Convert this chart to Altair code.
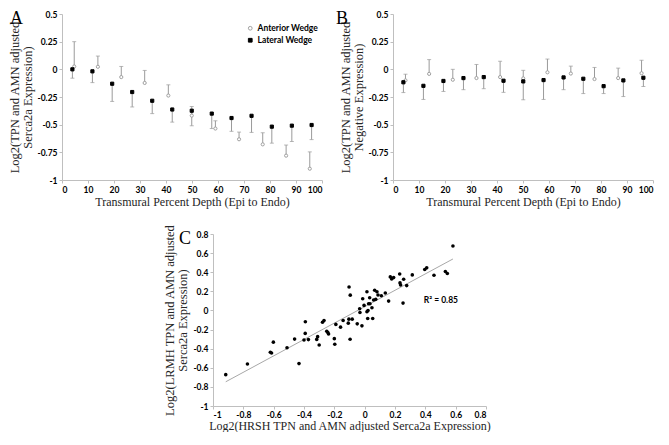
import altair as alt
import pandas as pd

# ---------------- Panel A: Serca2a expression vs transmural depth ----------------
a_ant_depth = [4.7, 13.8, 22.8, 31.8, 40.9, 49.9, 59.0, 68.1, 77.2, 86.2, 95.3]
a_ant_value = [0.026, 0.023, -0.07, -0.123, -0.237, -0.418, -0.535, -0.632, -0.678, -0.78, -0.898]
a_ant_err_end = [0.25, 0.12, 0.026, -0.01, -0.14, -0.336, -0.465, -0.567, -0.573, -0.684, -0.746]
a_lat_depth = [4.0, 11.7, 19.3, 27.0, 34.7, 42.4, 49.9, 57.6, 65.2, 72.9, 80.7, 88.4, 96.0]
a_lat_value = [0.0, -0.018, -0.13, -0.205, -0.284, -0.363, -0.374, -0.40, -0.44, -0.42, -0.518, -0.509, -0.503]
a_lat_err_end = [-0.08, -0.12, -0.29, -0.34, -0.40, -0.477, -0.51, -0.535, -0.56, -0.57, -0.667, -0.652, -0.635]

# ---------------- Panel B: negative-control expression vs depth ----------------
b_ant_depth = [4.8, 13.9, 23.0, 32.1, 41.2, 50.1, 59.4, 68.4, 77.5, 86.6, 95.6]
b_ant_value = [-0.10, -0.041, -0.094, -0.079, -0.07, -0.082, -0.027, -0.038, -0.088, -0.079, -0.035]
b_ant_err_end = [-0.044, 0.088, 0.0, 0.044, 0.073, -0.009, 0.093, 0.029, 0.017, 0.011, 0.082]
b_lat_depth = [4.0, 11.7, 19.4, 27.1, 34.9, 42.5, 50.1, 57.9, 65.6, 73.2, 81.0, 88.6, 96.3]
b_lat_value = [-0.117, -0.149, -0.105, -0.079, -0.07, -0.103, -0.109, -0.097, -0.073, -0.085, -0.152, -0.10, -0.076]
b_lat_err_end = [-0.21, -0.272, -0.20, -0.184, -0.175, -0.208, -0.275, -0.272, -0.184, -0.219, -0.219, -0.246, -0.155]

# ---------------- Panel C: LRMH vs HRSH scatter ----------------
c_hrsh = [-0.916, -0.773, -0.622, -0.614, -0.602, -0.512, -0.462, -0.433, -0.400, -0.391,
          -0.392, -0.371, -0.316, -0.310, -0.300, -0.278, -0.268, -0.250, -0.243, -0.238,
          -0.200, -0.197, -0.190, -0.159, -0.142, -0.108, -0.103, -0.104, -0.095, -0.096,
          -0.082, -0.049, -0.033, -0.031, -0.018, -0.013, -0.004, 0.015, 0.015, 0.020,
          0.022, 0.026, 0.033, 0.035, 0.048, 0.053, 0.059, 0.066, 0.073, 0.081,
          0.088, 0.110, 0.136, 0.158, 0.169, 0.178, 0.191, 0.231, 0.233, 0.237,
          0.253, 0.257, 0.277, 0.314, 0.396, 0.409, 0.457, 0.532, 0.545, 0.582]
c_lrmh = [-0.672, -0.561, -0.438, -0.446, -0.332, -0.391, -0.300, -0.556, -0.310, -0.119,
          -0.240, -0.305, -0.303, -0.274, -0.361, -0.123, -0.105, -0.218, -0.232, -0.246,
          -0.295, -0.354, -0.146, -0.175, -0.105, -0.133, 0.246, -0.091, 0.160, -0.302,
          -0.091, -0.140, 0.018, -0.021, -0.161, 0.123, 0.053, 0.196, -0.014, -0.084,
          0.000, 0.070, 0.133, 0.070, 0.028, -0.084, 0.109, 0.211, 0.116, 0.196,
          0.161, 0.154, 0.182, 0.098, 0.351, 0.330, 0.344, 0.382, 0.288, 0.267,
          0.077, 0.326, 0.260, 0.372, 0.428, 0.446, 0.368, 0.407, 0.386, 0.674]
r2_text = ["R\u00b2 = 0.85"]

series_names = ["Anterior Wedge", "Lateral Wedge"]
depth_ticks = [0, 10, 20, 30, 40, 50, 60, 70, 80, 90, 100]
value_ticks = [-1, -0.75, -0.5, -0.25, 0, 0.25, 0.5]
c_ticks = [-1, -0.8, -0.6, -0.4, -0.2, 0, 0.2, 0.4, 0.6, 0.8]

SERIF = "Liberation Serif"
SANS = "Lato"
BAR_GRAY = "#9a9a9a"
ANT_GRAY = "#a0a0a0"
LBL = "(datum.value < 0 ? '-' : '') + format(abs(datum.value), '~g')"


def depth_frame(ax, ay, ae, lx, ly, le):
    rows = []
    for x, y, e in zip(ax, ay, ae):
        rows.append({"depth": x, "value": y, "end": e, "series": series_names[0]})
    for x, y, e in zip(lx, ly, le):
        rows.append({"depth": x, "value": y, "end": e, "series": series_names[1]})
    return pd.DataFrame(rows)


def depth_panel(df, y_title, letter, w, h, leg_x, leg_y, title_dx, title_off):
    x_enc = alt.X("depth:Q", scale=alt.Scale(domain=[0, 100], nice=False, zero=False),
                  axis=alt.Axis(values=depth_ticks, title="Transmural Percent Depth (Epi to Endo)",
                                labelExpr=LBL, labelOverlap=False, titleFontSize=12))
    y_scale = alt.Scale(domain=[-1, 0.5], nice=False, zero=False)
    y_axis = alt.Axis(values=value_ticks, title=y_title, labelExpr=LBL, labelOverlap=False)
    leg = alt.Legend(title=None, orient="none", legendX=leg_x, legendY=leg_y,
                     symbolSize=14, symbolStrokeWidth=1, labelFont=SANS, labelFontSize=8.5,
                     labelFontWeight="bold", labelColor="black", rowPadding=3, labelOffset=3)
    base = alt.Chart(df)
    bars = base.mark_rule(color=BAR_GRAY, strokeWidth=1).encode(
        x=x_enc, y=alt.Y("value:Q", scale=y_scale, axis=y_axis), y2="end:Q")
    caps = base.mark_tick(color=BAR_GRAY, orient="horizontal", size=4, thickness=1).encode(
        x=x_enc, y=alt.Y("end:Q", scale=y_scale, axis=y_axis))
    pts = base.mark_point(size=10, strokeWidth=1, opacity=1).encode(
        x=x_enc,
        y=alt.Y("value:Q", scale=y_scale, axis=y_axis),
        shape=alt.Shape("series:N", scale=alt.Scale(domain=series_names, range=["circle", "square"]), legend=leg),
        fill=alt.Fill("series:N", scale=alt.Scale(domain=series_names, range=["white", "black"]), legend=leg),
        stroke=alt.Stroke("series:N", scale=alt.Scale(domain=series_names, range=[ANT_GRAY, "black"]), legend=leg),
    )
    return alt.layer(bars, caps, pts).properties(
        width=w, height=h,
        title=alt.TitleParams(letter, dx=title_dx, offset=title_off))


PW, PH = 260, 166
dfa = depth_frame(a_ant_depth, a_ant_value, a_ant_err_end, a_lat_depth, a_lat_value, a_lat_err_end)
dfb = depth_frame(b_ant_depth, b_ant_value, b_ant_err_end, b_lat_depth, b_lat_value, b_lat_err_end)

panel_a = depth_panel(dfa, ["Log2(TPN and AMN adjusted", "Serca2a Expression)"], "A",
                      PW, PH, PW - 76, 10, -52, -18)
panel_b = depth_panel(dfb, ["Log2(TPN and AMN adjusted", "Negative Expression)"], "B",
                      PW, PH, PW - 84, 1, -57, -18)

# panel C
dfc = pd.DataFrame({"hrsh": c_hrsh, "lrmh": c_lrmh})
c_scale = alt.Scale(domain=[-1, 0.8], nice=False, zero=False)
c_x_axis = alt.Axis(values=c_ticks, title="Log2(HRSH TPN and AMN adjusted Serca2a Expression)",
                    labelExpr=LBL, labelOverlap=False, titleFontSize=12, titlePadding=2, labelPadding=1)
c_y_axis = alt.Axis(values=c_ticks, title=["Log2(LRMH TPN and AMN adjusted", "Serca2a Expression)"],
                    labelExpr=LBL, labelOverlap=False)
xc = alt.X("hrsh:Q", scale=c_scale, axis=c_x_axis)
yc = alt.Y("lrmh:Q", scale=c_scale, axis=c_y_axis)
c_fit = alt.Chart(dfc).transform_regression("hrsh", "lrmh").mark_line(
    color="#a8a8a8", strokeWidth=1).encode(x=xc, y=yc)
c_pts = alt.Chart(dfc).mark_circle(size=13, color="black", opacity=1).encode(x=xc, y=yc)
c_txt = alt.Chart(pd.DataFrame({"label": r2_text})).mark_text(
    align="left", baseline="middle", font=SANS, fontSize=8.5, fontWeight="bold", color="black"
).encode(
    x=alt.XDatum(0.39, type="quantitative", scale=c_scale, axis=c_x_axis),
    y=alt.YDatum(0.105, type="quantitative", scale=c_scale, axis=c_y_axis),
    text="label:N")
CW, CH = 273, 172
panel_c = alt.layer(c_fit, c_pts, c_txt).properties(
    width=CW, height=CH, title=alt.TitleParams("C", dx=-34, offset=-24))

spacer = alt.Chart(pd.DataFrame({"s": [0]})).mark_point(opacity=0).properties(width=151, height=CH)

top = alt.hconcat(panel_a, panel_b, spacing=71, bounds="flush")
bottom = alt.hconcat(spacer, panel_c, spacing=0, bounds="flush")

chart = alt.vconcat(top, bottom, spacing=16).properties(
    padding={"left": 0, "top": 2, "right": 0, "bottom": 0}
).configure_view(stroke=None).configure_axis(
    grid=False, domainColor="#bfbfbf", tickColor="#bfbfbf", tickSize=3,
    labelFont=SANS, labelFontSize=8.5, labelFontWeight="bold", labelColor="black", labelPadding=2,
    labelOverlap=False,
    titleFont=SERIF, titleFontSize=12.5, titleFontWeight="normal", titleColor="#262626",
    titlePadding=3, titleLineHeight=13
).configure_title(
    font=SERIF, fontSize=18, fontWeight="normal", anchor="start", frame="group",
    baseline="alphabetic", color="black"
)

chart.save("out.html", embed_options={"renderer": "svg", "actions": False})
